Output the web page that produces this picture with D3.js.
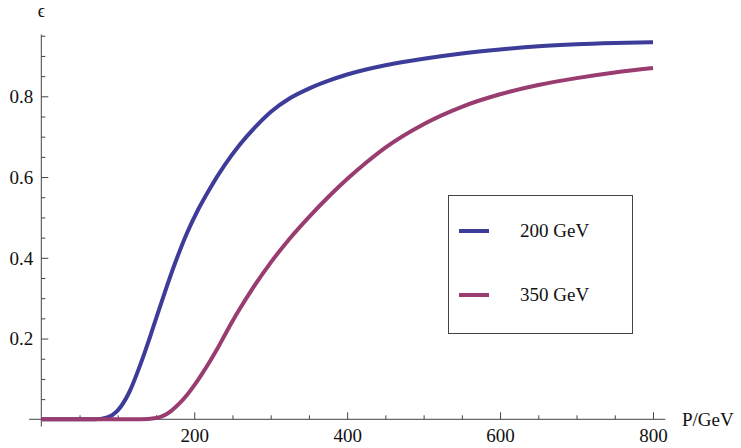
<!DOCTYPE html>
<html>
<head>
<meta charset="utf-8">
<script src="https://cdn.jsdelivr.net/npm/d3@7"></script>
<style>
  body { margin: 0; background: #fff; }
  svg { display: block; font-family: "Liberation Serif", "DejaVu Serif", serif; }
  svg text { font-family: "Liberation Serif", "DejaVu Serif", serif; }
</style>
</head>
<body>
<div id="chart"></div>
<script>
// Dados
var p_values    = [0, 70, 85, 100, 115, 130, 145, 160, 175, 190, 205, 220, 240, 260, 280, 300, 325, 350, 375, 400, 450, 500, 550, 600, 650, 700, 750, 800];
var eff_200     = [0, 0, 0.004, 0.022, 0.067, 0.138, 0.220, 0.306, 0.387, 0.459, 0.519, 0.570, 0.630, 0.681, 0.724, 0.761, 0.795, 0.819, 0.838, 0.854, 0.877, 0.893, 0.906, 0.916, 0.924, 0.929, 0.932, 0.934];
var p_values2   = [0, 130, 150, 160, 170, 180, 190, 200, 210, 220, 230, 240, 250, 260, 275, 300, 325, 350, 375, 400, 425, 450, 500, 550, 600, 650, 700, 750, 800];
var eff_350     = [0, 0, 0.003, 0.009, 0.021, 0.038, 0.059, 0.084, 0.112, 0.142, 0.174, 0.209, 0.243, 0.275, 0.320, 0.388, 0.448, 0.501, 0.550, 0.595, 0.636, 0.673, 0.731, 0.774, 0.805, 0.828, 0.845, 0.859, 0.870];
var series_names = ['200 GeV', '350 GeV'];
var x_ticks     = [200, 400, 600, 800];
var y_ticks     = [0.2, 0.4, 0.6, 0.8];

var chart_width  = 741;
var chart_height = 448;
var colors = ['#3d3d99', '#993d71'];
var font = '"Liberation Serif", "DejaVu Serif", serif';

var svg = d3.select('#chart')
    .append('svg')
    .attr('width', chart_width)
    .attr('height', chart_height);

// Escalas
var x_scale = d3.scaleLinear().domain([0, 800]).range([41.3, 653]);
var y_scale = d3.scaleLinear().domain([0, 0.8]).range([419.3, 96.3]);

var axis_color = '#444';

// Linhas dos eixos
svg.append('line')
    .attr('x1', x_scale(-16)).attr('x2', x_scale(816))
    .attr('y1', y_scale(0)).attr('y2', y_scale(0))
    .attr('stroke', axis_color).attr('stroke-width', 1);
svg.append('line')
    .attr('x1', x_scale(0)).attr('x2', x_scale(0))
    .attr('y1', y_scale(-0.018)).attr('y2', y_scale(0.953))
    .attr('stroke', axis_color).attr('stroke-width', 1);

// Ticks menores
var x_minor = d3.range(50, 801, 50).filter(function(d){ return x_ticks.indexOf(d) < 0; });
var y_minor = d3.range(1, 20).map(function(d){ return d * 0.05; })
    .filter(function(d){ return y_ticks.every(function(t){ return Math.abs(t - d) > 1e-6; }); });

var x_axis = svg.append('g')
    .attr('transform', 'translate(0,' + y_scale(0) + ')')
    .call(d3.axisBottom(x_scale).tickValues(x_ticks).tickSize(-7).tickSizeOuter(0).tickPadding(10));
var x_axis_minor = svg.append('g')
    .attr('transform', 'translate(0,' + y_scale(0) + ')')
    .call(d3.axisBottom(x_scale).tickValues(x_minor).tickSize(-4).tickSizeOuter(0).tickFormat(''));

var y_axis = svg.append('g')
    .attr('transform', 'translate(' + x_scale(0) + ',0)')
    .call(d3.axisLeft(y_scale).tickValues(y_ticks).tickSize(-7).tickSizeOuter(0).tickPadding(8).tickFormat(d3.format('.1f')));
var y_axis_minor = svg.append('g')
    .attr('transform', 'translate(' + x_scale(0) + ',0)')
    .call(d3.axisLeft(y_scale).tickValues(y_minor).tickSize(-4).tickSizeOuter(0).tickFormat(''));

[x_axis, x_axis_minor, y_axis, y_axis_minor].forEach(function(g){
    g.attr('font-family', null).attr('font-size', null);
    g.select('.domain').remove();
    g.selectAll('line').attr('stroke', axis_color);
    g.selectAll('text')
        .style('font-family', font)
        .style('font-size', '19px')
        .attr('fill', '#111');
});
x_axis.selectAll('text').attr('y', 23).attr('dy', 0);
y_axis.selectAll('text').attr('x', -8).attr('dy', '0.33em');

// Rotulos dos eixos
svg.append('text')
    .text('P/GeV')
    .attr('x', 682)
    .attr('y', 425.5)
    .style('font-size', '19px')
    .attr('fill', '#111');
svg.append('text')
    .text('\u03F5')
    .attr('x', x_scale(0))
    .attr('y', 17)
    .attr('text-anchor', 'middle')
    .style('font-size', '18px')
    .attr('fill', '#111');

// Curvas
var line = d3.line()
    .x(function(d){ return x_scale(d[0]); })
    .y(function(d){ return y_scale(d[1]); })
    .curve(d3.curveMonotoneX);

var series = [
    p_values.map(function(p, i){ return [p, eff_200[i]]; }),
    p_values2.map(function(p, i){ return [p, eff_350[i]]; })
];

svg.selectAll('path.curve')
    .data(series)
    .enter()
    .append('path')
    .attr('class', 'curve')
    .attr('d', line)
    .attr('fill', 'none')
    .attr('stroke', function(d, i){ return colors[i]; })
    .attr('stroke-width', 4)
    .attr('stroke-linejoin', 'round');

// Legenda
var legend = svg.append('g');
legend.append('rect')
    .attr('x', 448.5).attr('y', 195.5)
    .attr('width', 184).attr('height', 138)
    .attr('fill', '#fff')
    .attr('stroke', '#444')
    .attr('stroke-width', 1);

var legend_rows = legend.selectAll('g.row')
    .data(series_names)
    .enter()
    .append('g')
    .attr('class', 'row')
    .attr('transform', function(d, i){ return 'translate(0,' + (231 + i * 64) + ')'; });

legend_rows.append('line')
    .attr('x1', 459).attr('x2', 489)
    .attr('y1', 0).attr('y2', 0)
    .attr('stroke', function(d, i){ return colors[i]; })
    .attr('stroke-width', 4);

legend_rows.append('text')
    .text(function(d){ return d; })
    .attr('x', 520)
    .attr('y', 0)
    .attr('dy', '0.33em')
    .style('font-size', '19px')
    .attr('fill', '#111');
</script>
</body>
</html>
